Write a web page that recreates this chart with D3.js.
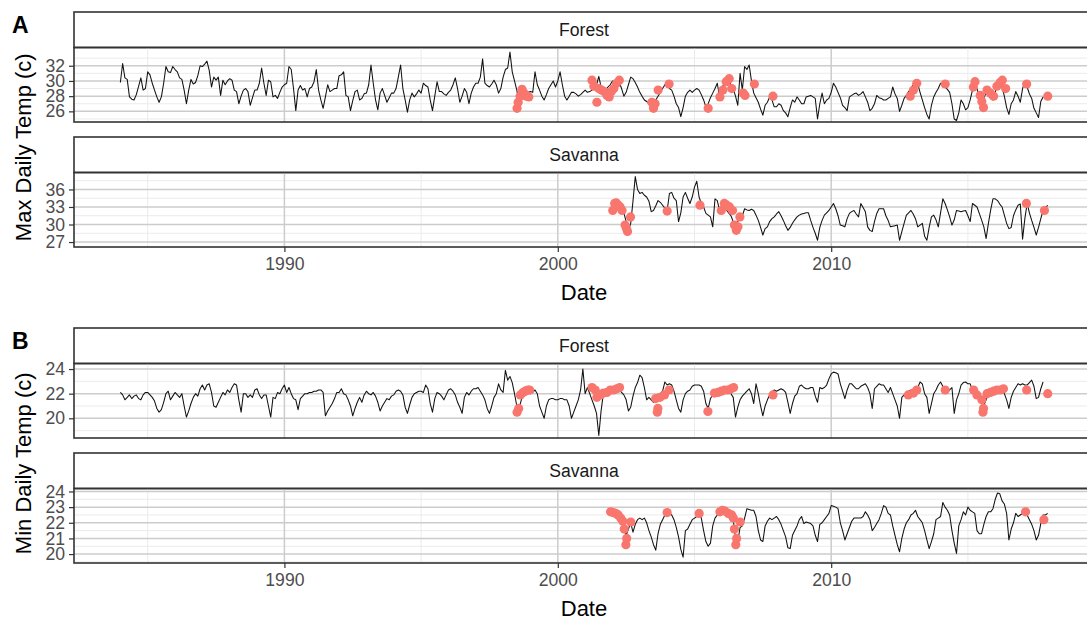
<!DOCTYPE html>
<html>
<head>
<meta charset="utf-8">
<script src="https://cdn.jsdelivr.net/npm/d3@7"></script>
<style>
  body { margin: 0; background: #fff; }
  svg { display: block; }
  text { font-family: "Liberation Sans", Arial, Helvetica, sans-serif; }
</style>
</head>
<body>
<svg id="chart" width="1087" height="621"></svg>
<script>
// ---- Monthly mean of daily maximum temperature (°C), one row per year ----
// Forest station: Jan 1984 – Oct 2017
const forestMaxRows = [
  [29.8, 32.3, 30.4, 30.2, 27.9, 27.6, 27.5, 28.2, 29.3, 30.4, 28.8, 29.0], // 1984
  [31.2, 30.8, 29.7, 28.8, 27.9, 27.2, 27.9, 29.7, 31.9, 31.2, 31.1, 31.9],
  [31.5, 31.2, 30.4, 30.2, 28.8, 27.0, 28.8, 30.2, 29.6, 29.8, 30.7, 32.0],
  [31.9, 32.2, 32.6, 31.4, 29.2, 30.5, 30.1, 30.5, 28.1, 30.1, 29.5, 30.0],
  [30.3, 30.1, 28.8, 28.6, 27.0, 28.0, 28.8, 29.0, 28.6, 26.8, 27.8, 28.8],
  [28.8, 29.7, 31.7, 29.7, 28.1, 30.1, 29.9, 27.9, 28.1, 27.7, 28.5, 29.2],
  [29.5, 29.7, 31.9, 31.5, 29.0, 26.1, 28.8, 29.4, 28.8, 29.0, 27.9, 29.0], // 1990
  [29.2, 29.9, 31.5, 28.8, 27.5, 26.4, 27.9, 29.5, 28.6, 28.8, 29.0, 29.0],
  [30.7, 30.8, 31.2, 28.1, 27.9, 26.1, 27.4, 28.6, 28.8, 27.5, 27.7, 28.3],
  [28.4, 29.5, 32.1, 29.7, 27.5, 26.2, 28.4, 29.0, 28.1, 27.2, 27.8, 28.4],
  [28.4, 29.0, 30.5, 32.1, 29.0, 27.5, 25.9, 27.5, 28.4, 27.9, 28.3, 28.8],
  [28.4, 29.7, 29.4, 29.2, 27.5, 26.1, 28.0, 29.9, 28.6, 28.6, 28.3, 28.1],
  [28.5, 28.8, 29.5, 30.4, 29.0, 27.2, 28.0, 29.0, 28.5, 27.0, 28.4, 29.2],
  [29.7, 29.7, 30.5, 32.9, 29.7, 29.4, 29.2, 29.6, 30.1, 29.5, 28.4, 29.0],
  [30.5, 31.5, 31.7, 33.8, 31.2, 30.0, 28.8, 27.2, 28.0, 28.5, 28.3, 28.5],
  [28.6, 28.5, 31.2, 29.5, 28.8, 28.0, 27.5, 28.2, 29.0, 29.5, 30.0, 29.2],
  [30.0, 31.2, 29.5, 28.0, 27.5, 28.0, 28.5, 28.5, 28.3, 28.0, 28.2, 28.5], // 2000
  [28.8, 28.5, 28.6, 28.8, 29.0, 29.5, 30.6, 29.2, 28.5, 28.8, 29.2, 29.5],
  [30.0, 29.8, 30.3, 29.8, 29.0, 28.0, 28.5, 29.5, 30.5, 30.3, 29.8, 29.2],
  [28.5, 28.0, 27.5, 27.3, 27.0, 26.5, 27.0, 27.5, 28.0, 28.5, 29.0, 29.5],
  [29.7, 29.0, 28.8, 28.0, 27.0, 26.5, 25.3, 26.5, 28.0, 28.5, 28.8, 28.5],
  [28.8, 29.0, 28.8, 28.2, 27.5, 26.6, 27.0, 27.8, 28.4, 29.0, 29.7, 27.9],
  [29.0, 29.7, 29.9, 30.1, 29.5, 29.0, 28.0, 26.8, 31.0, 28.8, 31.9, 31.5],
  [32.1, 30.0, 28.4, 27.8, 27.2, 26.3, 25.5, 26.8, 27.2, 27.9, 27.5, 26.6],
  [26.6, 27.0, 26.8, 26.1, 25.8, 25.3, 26.5, 27.5, 27.2, 27.9, 27.5, 27.0],
  [27.0, 27.9, 28.0, 28.1, 27.9, 27.7, 25.0, 27.0, 28.4, 27.0, 27.5, 27.7],
  [28.5, 29.7, 29.2, 28.5, 27.8, 26.8, 26.5, 26.1, 27.9, 28.1, 28.3, 28.4], // 2010
  [28.1, 28.3, 28.6, 27.9, 27.2, 26.1, 26.4, 27.0, 28.1, 27.8, 27.7, 27.5],
  [27.5, 27.7, 27.9, 29.2, 28.3, 27.7, 26.0, 26.8, 27.7, 28.1, 28.6, 29.0],
  [29.5, 29.9, 29.6, 28.5, 27.5, 26.5, 25.6, 25.0, 26.8, 27.9, 28.5, 29.0],
  [29.7, 29.5, 29.2, 28.9, 28.5, 27.0, 25.0, 24.8, 25.8, 27.5, 27.0, 26.2],
  [26.5, 27.5, 28.8, 29.9, 29.0, 28.0, 27.5, 27.8, 28.4, 28.0, 27.7, 27.5],
  [28.5, 29.9, 29.5, 29.2, 28.0, 26.5, 25.6, 27.0, 27.5, 28.6, 28.0, 27.2],
  [29.0, 29.9, 29.2, 28.3, 27.7, 26.4, 25.8, 25.2, 27.3, 27.9]              // 2017
];

// Savanna station: Jun 2002 – Dec 2017
const savannaMaxRows = [
  [32.0, 30.5, 29.0, 30.2, 34.0, 38.2, 36.0],                               // 2002 (Jun–Dec)
  [35.3, 35.5, 35.0, 34.7, 34.0, 32.2, 32.4, 33.2, 34.1, 33.8, 33.3, 32.8],
  [32.4, 35.3, 35.5, 34.5, 34.1, 30.5, 32.0, 34.7, 35.5, 34.5, 33.6, 34.7],
  [36.4, 37.4, 34.7, 33.6, 33.0, 31.9, 31.6, 31.3, 29.6, 34.4, 34.1, 32.4],
  [32.4, 33.0, 32.5, 32.0, 31.5, 30.5, 29.5, 30.5, 31.3, 31.5, 32.7, 32.5],
  [32.4, 32.6, 32.4, 31.6, 30.7, 29.5, 28.2, 29.3, 29.6, 30.5, 31.0, 31.3],
  [31.8, 32.2, 31.5, 30.7, 29.8, 29.0, 29.5, 30.2, 30.8, 31.3, 31.6, 31.8],
  [31.9, 32.0, 32.0, 30.7, 29.5, 28.5, 27.3, 29.5, 30.7, 31.6, 32.0, 32.4],
  [33.0, 33.6, 32.7, 31.5, 29.9, 29.8, 29.6, 31.0, 31.9, 32.2, 32.4, 31.8], // 2010
  [31.3, 33.6, 32.9, 32.2, 29.6, 29.0, 28.8, 30.5, 31.9, 32.7, 32.7, 32.7],
  [31.5, 30.7, 29.6, 29.7, 29.8, 29.9, 27.3, 28.8, 30.2, 31.6, 32.0, 32.4],
  [31.8, 31.0, 29.6, 29.9, 30.2, 28.0, 27.3, 29.5, 31.3, 31.6, 30.8, 29.6],
  [32.0, 34.4, 33.6, 32.5, 31.3, 29.9, 30.8, 32.4, 32.3, 32.2, 32.3, 32.4],
  [31.5, 30.5, 33.6, 33.3, 33.0, 31.9, 30.8, 29.6, 27.6, 30.2, 32.5, 34.4],
  [34.4, 34.1, 33.5, 33.0, 31.6, 30.2, 29.3, 29.5, 31.5, 32.5, 33.3, 33.5],
  [27.5, 31.0, 33.6, 32.0, 30.7, 29.5, 28.2, 29.5, 31.0, 32.4, 32.8, 33.3]  // 2017
];

// ---- Monthly mean of daily minimum temperature (°C) ----
const forestMinRows = [
  [22.1, 21.9, 21.5, 21.7, 21.9, 21.6, 21.8, 21.9, 21.6, 21.5, 21.9, 22.1], // 1984
  [22.1, 21.9, 21.7, 21.4, 20.8, 20.5, 20.7, 21.3, 22.0, 22.2, 21.5, 21.8],
  [22.1, 21.9, 21.7, 22.0, 21.0, 20.1, 20.6, 21.2, 21.7, 22.0, 21.8, 22.4],
  [22.7, 22.3, 22.7, 22.8, 22.1, 21.0, 20.9, 21.3, 21.7, 22.1, 21.9, 22.3],
  [22.1, 22.5, 22.8, 22.7, 21.5, 20.5, 22.0, 22.0, 21.7, 21.9, 21.7, 22.3],
  [22.4, 21.9, 21.6, 21.9, 21.9, 21.0, 20.1, 21.7, 21.6, 22.1, 22.0, 22.4],
  [22.7, 22.1, 22.5, 22.0, 21.6, 21.5, 20.7, 21.6, 21.8, 22.0, 22.0, 22.1], // 1990
  [22.1, 22.2, 22.2, 22.3, 22.3, 22.1, 20.2, 20.6, 20.9, 21.2, 21.6, 22.1],
  [22.1, 22.4, 22.0, 21.9, 21.5, 21.0, 20.2, 20.8, 21.3, 21.7, 21.3, 21.9],
  [22.2, 22.0, 21.9, 22.1, 21.8, 21.3, 20.6, 21.0, 21.3, 21.6, 21.5, 21.8],
  [21.9, 22.2, 22.3, 22.2, 21.9, 20.9, 20.4, 21.1, 21.7, 22.0, 22.1, 22.2],
  [22.2, 22.1, 22.7, 22.4, 21.2, 20.5, 21.6, 22.1, 22.0, 21.8, 21.5, 21.9],
  [22.3, 22.4, 22.2, 21.9, 21.3, 20.9, 20.4, 21.7, 22.1, 21.9, 22.2, 22.4],
  [22.4, 22.5, 22.2, 21.9, 21.5, 20.8, 20.4, 21.0, 21.7, 22.0, 22.8, 22.3],
  [22.1, 23.9, 23.1, 23.4, 22.9, 22.0, 21.0, 20.8, 21.5, 22.1, 22.2, 22.1],
  [22.0, 22.1, 22.3, 22.0, 21.0, 20.5, 20.0, 21.0, 21.5, 21.6, 21.6, 21.5],
  [21.5, 21.6, 21.6, 21.5, 21.5, 21.0, 20.0, 20.5, 21.0, 21.5, 22.3, 24.0], // 2000
  [22.0, 22.5, 22.0, 21.5, 21.0, 20.4, 18.6, 20.6, 22.0, 22.0, 22.1, 22.2],
  [22.1, 22.1, 22.2, 22.3, 22.1, 21.9, 21.5, 20.6, 20.9, 21.8, 22.5, 22.9],
  [23.5, 23.3, 22.5, 21.5, 21.7, 21.5, 21.3, 21.5, 21.7, 22.0, 22.2, 22.95],
  [22.7, 22.8, 22.7, 22.2, 21.5, 20.8, 20.5, 21.5, 22.0, 22.2, 22.3, 22.6],
  [22.7, 22.7, 22.7, 22.6, 22.2, 21.2, 20.8, 21.6, 21.9, 22.0, 22.0, 22.1],
  [22.2, 22.3, 22.3, 22.3, 22.0, 21.7, 20.1, 20.9, 21.5, 21.8, 22.0, 22.2],
  [22.4, 22.0, 21.2, 22.8, 22.0, 21.0, 20.2, 21.0, 21.5, 21.9, 22.1, 22.3],
  [22.2, 22.3, 22.4, 22.3, 22.1, 21.3, 20.4, 21.2, 21.8, 22.0, 22.6, 22.7],
  [22.5, 22.4, 22.4, 22.5, 22.5, 21.8, 21.3, 22.5, 22.4, 22.5, 22.7, 23.2],
  [23.6, 23.75, 23.7, 23.6, 22.8, 22.2, 21.6, 22.3, 22.8, 22.8, 22.6, 22.4], // 2010
  [22.4, 22.6, 22.7, 22.8, 22.5, 22.0, 20.8, 22.4, 22.6, 22.8, 22.7, 22.7],
  [22.4, 22.1, 22.5, 22.0, 21.5, 21.0, 20.0, 21.7, 21.9, 22.1, 22.2, 22.3],
  [22.3, 22.1, 22.5, 22.95, 22.8, 22.0, 21.7, 20.4, 21.2, 22.0, 22.3, 22.7],
  [22.95, 22.6, 22.4, 22.1, 22.3, 22.5, 20.4, 21.5, 22.0, 22.7, 22.9, 22.95],
  [22.8, 22.8, 22.3, 21.7, 22.1, 21.5, 21.3, 21.05, 21.5, 22.0, 22.2, 22.3],
  [22.3, 22.4, 22.5, 22.3, 22.0, 21.5, 20.8, 21.7, 22.2, 22.5, 22.8, 22.7],
  [22.8, 22.7, 22.7, 22.9, 23.1, 22.6, 21.6, 21.7, 22.4, 22.95]             // 2017
];

const savannaMinRows = [
  [21.8, 21.2, 21.6, 22.0, 21.4, 21.9, 22.2],                               // 2002 (Jun–Dec)
  [22.3, 22.2, 22.3, 22.0, 21.5, 21.1, 20.6, 20.25, 21.3, 21.9, 22.2, 22.5],
  [22.7, 22.6, 22.5, 22.2, 21.7, 21.1, 20.3, 19.8, 21.5, 21.6, 21.9, 22.2],
  [22.3, 22.4, 22.6, 22.3, 21.5, 20.8, 20.5, 20.7, 21.8, 22.3, 22.5, 22.7],
  [22.8, 22.8, 22.7, 22.6, 22.4, 22.2, 21.0, 20.8, 21.7, 21.8, 22.3, 22.9],
  [22.85, 22.8, 22.8, 22.4, 21.5, 20.9, 20.8, 21.8, 22.1, 22.3, 22.2, 22.3],
  [22.4, 22.2, 21.9, 21.5, 21.1, 20.4, 20.35, 21.2, 21.5, 21.8, 22.2, 22.4],
  [21.95, 22.05, 22.0, 21.95, 21.8, 21.2, 20.8, 21.9, 22.0, 22.2, 22.4, 22.6],
  [23.1, 23.05, 23.0, 22.9, 22.0, 21.5, 20.9, 21.3, 21.7, 22.1, 22.3, 22.3], // 2010
  [22.3, 22.3, 22.4, 22.7, 22.5, 22.2, 21.5, 21.7, 21.95, 22.2, 22.6, 23.1],
  [23.0, 22.6, 22.5, 21.8, 21.2, 20.6, 20.15, 21.0, 21.6, 22.0, 22.2, 22.5],
  [22.6, 22.8, 22.4, 22.2, 22.0, 21.5, 20.9, 20.35, 20.8, 21.3, 22.2, 22.3],
  [22.4, 23.3, 23.0, 22.8, 22.5, 21.5, 20.7, 20.04, 21.8, 22.2, 22.7, 22.5],
  [23.0, 22.8, 22.7, 22.6, 21.5, 21.3, 21.3, 21.9, 22.4, 22.7, 22.7, 22.9],
  [23.5, 23.9, 23.85, 23.4, 23.2, 22.6, 20.9, 21.6, 22.0, 22.6, 22.4, 22.5],
  [22.6, 22.7, 22.5, 22.2, 21.9, 21.5, 20.9, 21.2, 21.95, 22.5, 22.5, 22.6] // 2017
];

// ---- Sampling dates (decimal year) and the temperatures recorded there ----
const forestMaxPoints = [
  [1998.51, 26.4], [1998.55, 27.2], [1998.62, 28.0], [1998.69, 28.9], [1998.76, 28.4], [1998.85, 28.0], [1998.94, 27.9],
  [2001.25, 30.1], [2001.32, 29.3], [2001.43, 27.2], [2001.50, 29.0], [2001.60, 28.8], [2001.70, 28.6], [2001.80, 28.1],
  [2001.88, 27.9], [2001.96, 28.6], [2002.05, 29.0], [2002.15, 29.7], [2002.25, 30.1],
  [2003.44, 27.2], [2003.50, 26.4], [2003.56, 27.0], [2003.67, 28.8], [2004.07, 29.6],
  [2005.50, 26.4], [2005.93, 27.9], [2006.04, 28.8], [2006.16, 29.9], [2006.27, 30.3], [2006.36, 29.0],
  [2006.78, 28.4], [2006.85, 28.1], [2007.19, 29.6], [2007.87, 28.0],
  [2012.89, 28.0], [2013.01, 28.8], [2013.13, 29.7], [2014.17, 29.6],
  [2015.20, 29.2], [2015.26, 29.9], [2015.45, 28.1], [2015.51, 27.3], [2015.57, 26.5], [2015.70, 28.8],
  [2015.82, 28.4], [2015.94, 28.0], [2016.06, 29.3], [2016.18, 29.8], [2016.26, 30.1], [2016.38, 29.0],
  [2017.15, 29.6], [2017.92, 28.0]
];
const savannaMaxPoints = [
  [2002.01, 32.4], [2002.08, 33.6], [2002.14, 33.7], [2002.21, 33.3], [2002.28, 33.0], [2002.35, 32.4],
  [2002.46, 29.9], [2002.51, 29.3], [2002.55, 28.8], [2002.66, 31.3],
  [2004.00, 32.3], [2005.20, 33.3],
  [2005.98, 32.4], [2006.09, 33.6], [2006.18, 33.3], [2006.28, 33.0], [2006.39, 32.4],
  [2006.46, 29.9], [2006.53, 29.0], [2006.59, 29.6], [2006.66, 31.3],
  [2017.14, 33.6], [2017.80, 32.4]
];
const forestMinPoints = [
  [1998.51, 20.5], [1998.57, 20.8], [1998.63, 21.9], [1998.73, 22.1], [1998.81, 22.2], [1998.90, 22.3], [1998.97, 22.3],
  [2001.25, 22.5], [2001.37, 22.3], [2001.43, 21.7], [2001.55, 21.9], [2001.67, 22.05], [2001.80, 22.1],
  [2001.92, 22.3], [2002.04, 22.3], [2002.16, 22.4], [2002.26, 22.5],
  [2003.58, 21.6], [2003.64, 20.5], [2003.66, 20.8], [2003.74, 21.7], [2003.90, 21.9], [2004.07, 22.3],
  [2005.49, 20.55], [2005.73, 22.05], [2005.86, 22.1], [2005.98, 22.2], [2006.10, 22.3], [2006.22, 22.3],
  [2006.34, 22.4], [2006.43, 22.5], [2007.87, 21.9],
  [2012.82, 21.9], [2013.01, 22.05], [2013.13, 22.3], [2014.17, 22.3],
  [2015.21, 22.3], [2015.33, 21.9], [2015.51, 21.5], [2015.55, 20.5], [2015.57, 20.8], [2015.70, 22.0],
  [2015.82, 22.1], [2015.94, 22.2], [2016.06, 22.3], [2016.18, 22.3], [2016.30, 22.4],
  [2017.15, 22.3], [2017.92, 22.0]
];
const savannaMinPoints = [
  [2001.93, 22.7], [2002.03, 22.65], [2002.12, 22.6], [2002.21, 22.5], [2002.30, 22.3], [2002.38, 22.1],
  [2002.43, 21.6], [2002.49, 20.6], [2002.52, 21.0], [2002.67, 22.05],
  [2004.00, 22.65], [2005.17, 22.6],
  [2005.93, 22.7], [2006.02, 22.8], [2006.11, 22.75], [2006.24, 22.6], [2006.36, 22.5], [2006.42, 22.3],
  [2006.46, 21.6], [2006.51, 20.6], [2006.54, 21.0], [2006.67, 22.05],
  [2017.11, 22.7], [2017.78, 22.2]
];

// ---- Axis breaks and limits ----
const yearTicks = [1990, 2000, 2010];
const forestMaxTicks = [26, 28, 30, 32];
const savannaMaxTicks = [27, 30, 33, 36];
const forestMinTicks = [20, 22, 24];
const savannaMinTicks = [20, 21, 22, 23, 24];
const forestMaxLimits = [24.6, 34.4];
const savannaMaxLimits = [26.15, 38.9];
const forestMinLimits = [18.4, 24.45];
const savannaMinLimits = [19.43, 24.19];

// ---------------------------------------------------------------------------
function monthly(rows, firstYear, firstMonth) {
  const out = [];
  rows.forEach((row, r) => row.forEach((v, i) => {
    const m = (r === 0 ? firstMonth : 0) + i;
    out.push({ t: firstYear + r + m / 12, v });
  }));
  return out;
}
const asPoints = arr => arr.map(([t, v]) => ({ t, v }));

const forestMax = monthly(forestMaxRows, 1984, 0);
const savannaMax = monthly(savannaMaxRows, 2002, 5);
const forestMin = monthly(forestMinRows, 1984, 0);
const savannaMin = monthly(savannaMinRows, 2002, 5);

// minor breaks halfway between major breaks (and one step beyond each end)
function minorBreaks(major, domain) {
  const step = major[1] - major[0];
  const out = [];
  for (let v = major[0] - step / 2; v <= major[major.length - 1] + step; v += step) {
    if (v >= domain[0] && v <= domain[1]) out.push(v);
  }
  return out;
}

const svg = d3.select("#chart");
svg.append("rect").attr("width", 1087).attr("height", 621).attr("fill", "#fff");

const panelLeft = 74, panelRight = 1094;
const stripH = 35.5, panelH = 74.5, facetGap = 15;

const allT = [forestMax, savannaMax, forestMin, savannaMin].flat().map(d => d.t);
const [t0, t1] = d3.extent(allT);
const tPad = (t1 - t0) * 0.05;
const x = d3.scaleLinear().domain([t0 - tPad, t1 + tPad]).range([panelLeft, panelRight]);
const xMinor = minorBreaks(yearTicks, x.domain());

const figures = [
  { tag: "A", yTitle: "Max Daily Temp (c)", top: 12, facets: [
      { name: "Forest", line: forestMax, pts: asPoints(forestMaxPoints), limits: forestMaxLimits, ticks: forestMaxTicks },
      { name: "Savanna", line: savannaMax, pts: asPoints(savannaMaxPoints), limits: savannaMaxLimits, ticks: savannaMaxTicks }
  ]},
  { tag: "B", yTitle: "Min Daily Temp (c)", top: 328, facets: [
      { name: "Forest", line: forestMin, pts: asPoints(forestMinPoints), limits: forestMinLimits, ticks: forestMinTicks },
      { name: "Savanna", line: savannaMin, pts: asPoints(savannaMinPoints), limits: savannaMinLimits, ticks: savannaMinTicks }
  ]}
];

const lineGen = d3.line().x(d => x(d.t));

figures.forEach(fig => {
  const g = svg.append("g");
  let panelsTop = null, panelsBottom = null;

  fig.facets.forEach((f, k) => {
    const stripTop = fig.top + k * (stripH + panelH + facetGap);
    const pTop = stripTop + stripH;
    const pBottom = pTop + panelH;
    if (k === 0) panelsTop = pTop;
    panelsBottom = pBottom;

    const y = d3.scaleLinear().domain(f.limits).range([pBottom, pTop]);
    const yMinor = minorBreaks(f.ticks, f.limits);

    // strip
    g.append("rect")
      .attr("x", panelLeft).attr("y", stripTop)
      .attr("width", panelRight - panelLeft).attr("height", stripH)
      .attr("fill", "#fff").attr("stroke", "#333").attr("stroke-width", 1.6);
    g.append("text")
      .attr("x", (panelLeft + panelRight) / 2).attr("y", stripTop + stripH / 2 + 6.3)
      .attr("text-anchor", "middle").attr("font-size", 17.6).attr("fill", "#1a1a1a")
      .text(f.name);

    // grid
    const grid = g.append("g");
    grid.selectAll(".ymin").data(yMinor).join("line")
      .attr("x1", panelLeft).attr("x2", panelRight)
      .attr("y1", d => y(d)).attr("y2", d => y(d))
      .attr("stroke", "#ebebeb").attr("stroke-width", 1);
    grid.selectAll(".xmin").data(xMinor).join("line")
      .attr("x1", d => x(d)).attr("x2", d => x(d))
      .attr("y1", pTop).attr("y2", pBottom)
      .attr("stroke", "#ebebeb").attr("stroke-width", 1);
    grid.selectAll(".ymaj").data(f.ticks).join("line")
      .attr("x1", panelLeft).attr("x2", panelRight)
      .attr("y1", d => y(d)).attr("y2", d => y(d))
      .attr("stroke", "#cccccc").attr("stroke-width", 1.5);
    grid.selectAll(".xmaj").data(yearTicks).join("line")
      .attr("x1", d => x(d)).attr("x2", d => x(d))
      .attr("y1", pTop).attr("y2", pBottom)
      .attr("stroke", "#cccccc").attr("stroke-width", 1.5);

    // series
    g.append("path")
      .datum(f.line)
      .attr("d", lineGen.y(d => y(d.v)))
      .attr("fill", "none").attr("stroke", "#111").attr("stroke-width", 1.05)
      .attr("stroke-linejoin", "round");

    g.append("g").selectAll("circle").data(f.pts).join("circle")
      .attr("cx", d => x(d.t)).attr("cy", d => y(d.v)).attr("r", 4.6)
      .attr("fill", "#F8766D");

    // panel border
    g.append("rect")
      .attr("x", panelLeft).attr("y", pTop)
      .attr("width", panelRight - panelLeft).attr("height", panelH)
      .attr("fill", "none").attr("stroke", "#333").attr("stroke-width", 1.6);

    // y axis
    const yAxis = d3.axisLeft(y).tickValues(f.ticks).tickSize(5).tickPadding(4).tickFormat(d3.format("d"));
    const ya = g.append("g").attr("transform", `translate(${panelLeft},0)`).call(yAxis);
    ya.select(".domain").remove();
    ya.selectAll("line").attr("stroke", "#333").attr("stroke-width", 1.2);
    ya.selectAll("text").attr("font-size", 17.6).attr("fill", "#4d4d4d")
      .attr("font-family", '"Liberation Sans", Arial, sans-serif');

    // x axis on the lower facet only
    if (k === fig.facets.length - 1) {
      const xAxis = d3.axisBottom(x).tickValues(yearTicks).tickSize(5).tickPadding(6).tickFormat(d3.format("d"));
      const xa = g.append("g").attr("transform", `translate(0,${pBottom})`).call(xAxis);
      xa.select(".domain").remove();
      xa.selectAll("line").attr("stroke", "#333").attr("stroke-width", 1.2);
      xa.selectAll("text").attr("font-size", 17.6).attr("fill", "#4d4d4d")
        .attr("font-family", '"Liberation Sans", Arial, sans-serif');

      g.append("text")
        .attr("x", (panelLeft + panelRight) / 2).attr("y", pBottom + 53)
        .attr("text-anchor", "middle").attr("font-size", 22).attr("fill", "#000")
        .text("Date");
    }
  });

  // y title
  g.append("text")
    .attr("transform", `translate(31,${(panelsTop + panelsBottom) / 2}) rotate(-90)`)
    .attr("text-anchor", "middle").attr("font-size", 22).attr("fill", "#000")
    .text(fig.yTitle);

  // panel tag
  g.append("text")
    .attr("x", 12).attr("y", fig.top + 21)
    .attr("font-size", 23).attr("font-weight", "bold").attr("fill", "#000")
    .text(fig.tag);
});
</script>
</body>
</html>
